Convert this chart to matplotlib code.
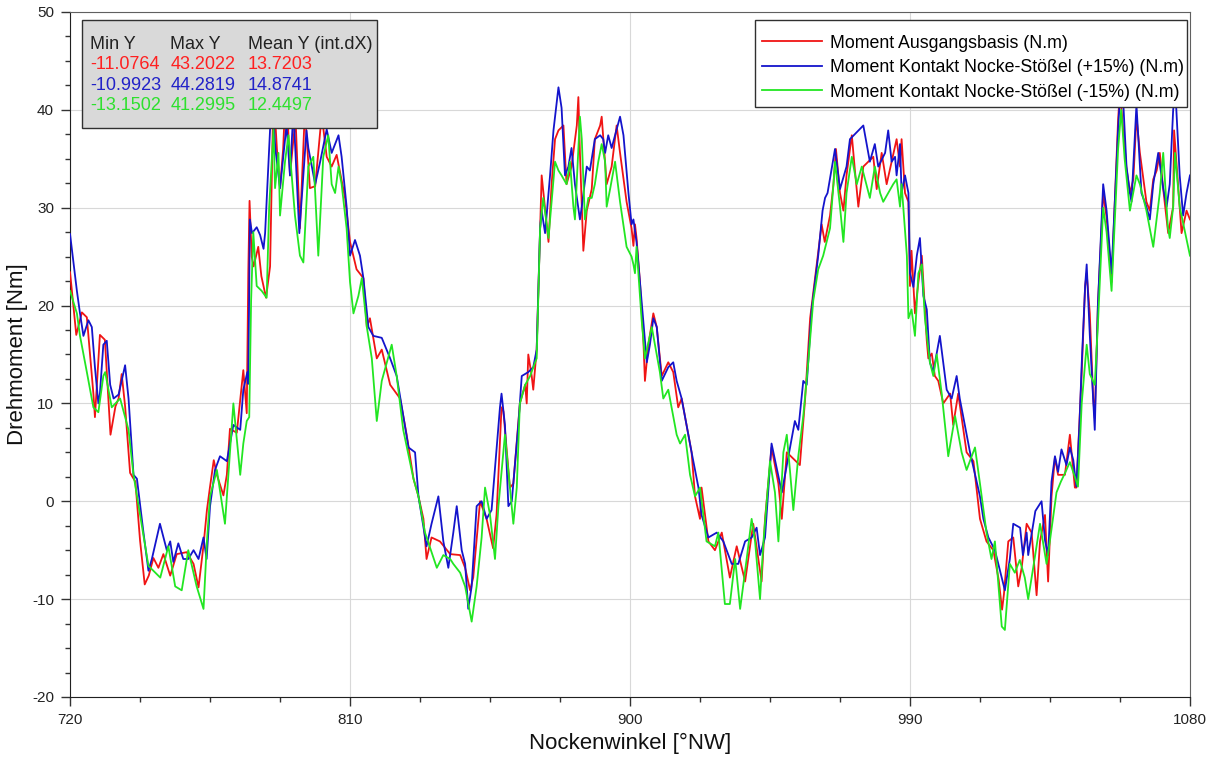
import matplotlib
matplotlib.use("Agg")
import matplotlib.pyplot as plt
from matplotlib.ticker import MultipleLocator
from matplotlib.patches import Rectangle

plt.rcParams['font.family'] = ['Liberation Sans', 'DejaVu Sans']
plt.rcParams['axes.unicode_minus'] = False

# Moment Ausgangsbasis
deg_base = [720, 722, 723.8, 725.4, 727.5, 728, 729.6, 731.2, 733, 734.6, 735.6, 736.6, 737.7, 739.3, 741,
            742.5, 744, 745.3, 746.8, 748.4, 750, 752.2, 754.3, 757.5, 759.7, 761.3, 762.9, 764, 765, 766.2,
            767.2, 769.3, 770.4, 771.4, 773.6, 774.7, 775.7, 776.8, 777.3, 777.7, 778.4, 779, 780.5, 781.5, 783,
            784.3, 785.4, 786.5, 787.5, 788.5, 789.5, 790.7, 791.8, 792.5, 793.9, 795.5, 797.1, 798.8, 800.9,
            802.5, 804.1, 805.7, 808.4, 810, 812.1, 814.3, 815.4, 816.4, 818.6, 820.2, 822.9, 826.1, 828.2,
            830.4, 832, 833.6, 834.6, 836.2, 838.9, 842.2, 845.4, 847, 848.6, 849.6, 851.8, 853.9, 856, 857.1,
            858.7, 859.3, 861.4, 862.5, 864.6, 866.3, 866.8, 867.3, 868.4, 868.9, 870, 871.1, 871.6, 873.8,
            874.8, 875.9, 877, 878.6, 879.6, 881.2, 882.9, 883.4, 883.9, 885, 886.1, 887.7, 888.7, 890.4,
            890.9, 892.5, 894.1, 895.7, 896.8, 898.9, 900.5, 901.1, 901.6, 902.1, 903.2, 904.3, 904.8, 905.9,
            907.5, 908.6, 910.2, 912.3, 913.9, 915.5, 916.6, 919.8, 920.9, 922.5, 923, 925.2, 927.3, 929.5,
            932.1, 934.3, 937, 939.6, 942.3, 943.4, 945.5, 947.7, 948.8, 950.4, 954.6, 956.3, 957.9, 960,
            961.6, 962.6, 964.3, 965.4, 966.2, 967.5, 968.6, 969.6, 971.3, 972.3, 973.4, 975, 978.2, 979.3,
            980.9, 982.5, 985.7, 986.8, 987.3, 988.4, 989.5, 990, 990.5, 991.6, 992.7, 993.8, 995.4, 995.9,
            997, 998, 999.1, 1000.7, 1002.9, 1003.9, 1005.5, 1008.2, 1010.4, 1012.5, 1014.6, 1016.8, 1018.5,
            1019.6, 1020.2, 1021.6, 1023.2, 1024.8, 1025.9, 1027.5, 1029.1, 1030.7, 1031.8, 1033.4, 1034.4,
            1035.5, 1036.6, 1037.6, 1039.8, 1041.4, 1043, 1043.5, 1045.2, 1046.3, 1046.8, 1047.8, 1048.9,
            1049.4, 1050.4, 1052.1, 1053.2, 1054.8, 1056.9, 1057.5, 1058.5, 1059.6, 1060.7, 1061.8, 1062.8,
            1063.9, 1066, 1067.1, 1068.2, 1069.3, 1070.3, 1071.4, 1073, 1074.6, 1074.9, 1076.7, 1077.3,
            1078.9, 1080]
torque_base = [23.4, 17, 19.3, 18.8, 11, 8.6, 17, 16.5, 6.8, 9.7, 10.5, 13, 9.7, 2.9, 2,
               -4, -8.5, -7.6, -5.8, -6.8, -5.4, -7.6, -5.4, -5.2, -6.4, -8.8, -4.5, -0.9, 1.5, 4.2,
               2.7, 0.6, 2.7, 7.4, 7, 10.3, 13.4, 9, 23.4, 30.7, 25, 24, 26, 23, 20.8,
               24, 42, 36, 32, 36, 43.2, 33.3, 37, 39, 27.9, 40, 32, 32.2, 39.5,
               35.2, 34.2, 35.4, 31, 26.5, 23.7, 22.8, 17.8, 18.7, 14.6, 15.5, 11.9, 10.5, 6.8,
               2.3, 0.5, -1.8, -5.9, -3.7, -4.1, -5.4, -5.5, -6.8, -9.1, -7.8, 0, -1.8, -4.8, -1.4,
               9.6, 9.2, 1.4, 1.8, 10, 11.9, 10, 15, 12.8, 11.4, 15.5, 28, 33.3, 26.5,
               32.4, 37, 37.9, 38.4, 32.4, 34.2, 38.4, 41.3, 35.6, 25.6, 29.7, 31.9, 37, 38.4,
               39.3, 32.4, 34.2, 38.4, 35.6, 30.6, 27.9, 26.1, 28.3, 26.9, 22.4, 16.4, 12.3, 16,
               19.2, 17.8, 12.8, 14.2, 13.2, 9.6, 10.5, 5, 0.5, -1.8, 1.4, -4.1, -5, -3.2,
               -7.8, -4.6, -8.2, -2.3, -8.2, -1.8, 5.5, 1.8, -1.8, 5, 3.7, 10.5, 18.7, 24.2,
               28.3, 26.5, 29.2, 32.4, 36, 31.5, 29.7, 33.3, 37.4, 33.8, 30.1, 34.2, 35.2, 31.9,
               35.6, 32.4, 37, 34.2, 37, 31.5, 30.6, 22, 25.6, 19.2, 22.4, 25.1, 16.4, 14.6,
               15.1, 12.8, 12.3, 10, 11, 7.8, 11, 5, 4.1, -1.8, -4.1, -5, -8,
               -11.08, -9.5, -4.1, -3.7, -8.7, -6.8, -2.3, -3.2, -9.6, -4.1, -1.4, -8.2,
               0.5, 4.5, 2.7, 2.7, 6.8, 1.4, 1.4, 13.2, 22, 23.3, 19.2, 10.5,
               8.5, 20, 31.5, 29, 22.4, 39, 42, 38, 34, 31.5, 32.9, 39.3,
               35.6, 30.6, 29.7, 32.9, 33.8, 35.6, 31.9, 27.4, 30.1, 37.9, 30.1, 27.4,
               29.7, 28.8]

# Moment Kontakt Nocke-Stößel (+15%)
deg_plus = [720, 722.2, 723.2, 724.3, 725.9, 727, 728, 729.1, 729.6, 730.7, 731.8, 732.9, 734, 735.6, 737.7,
            738.8, 740.4, 741.5, 743.6, 745.2, 746.3, 748.9, 751.1, 752.2, 753.2, 754.8, 756.4, 758, 759.7,
            761.3, 762.9, 763.9, 765, 766.6, 768.2, 770.4, 772.5, 774.7, 775.7, 777, 777.3, 777.8, 778.5,
            780, 781.1, 782.2, 782.7, 784.3, 785, 786, 787.5, 789.6, 790.7, 791.8, 793.7, 796, 796.6, 798.8,
            800.4, 802.5, 804.1, 806.3, 807.3, 808.9, 810, 811.6, 813.2, 814.3, 815.9, 817.5, 820.2, 822.9,
            825, 828.8, 830.9, 832, 834.6, 836.2, 838.4, 840, 841.6, 843.2, 844.3, 845.9, 847, 848, 849.1,
            850.7, 852.3, 853.9, 855.5, 858.2, 858.7, 859.8, 860.9, 862, 864.1, 865.2, 867.3, 868.9, 870,
            871.1, 871.6, 872.7, 874.3, 875.4, 877, 878, 879.1, 880.2, 881.2, 882.3, 883.9, 884.5, 886.1,
            887.1, 888.7, 890.4, 891.4, 892, 893, 894.1, 896.8, 897.9, 899.5, 900.5, 901.1, 902.1, 903.2,
            905.4, 906.4, 907.5, 908.6, 910.2, 912.3, 913.9, 915, 916.6, 919.8, 922, 923, 925.2, 927.9, 930,
            932.7, 934.8, 937, 939.1, 940.7, 941.8, 943.4, 945.5, 948.8, 953, 954.1, 955.7, 956.8, 958.4,
            960.5, 961.9, 962.7, 963.5, 965.9, 967.5, 969.6, 970.7, 975, 977.1, 978.7, 979.8, 982, 983,
            984.1, 985.2, 985.7, 986.8, 987.3, 988.4, 989.5, 990, 991.1, 992.2, 993.2, 993.8, 994.3, 995.4,
            996.4, 997.5, 999.6, 1001.8, 1003.4, 1005, 1006, 1009.3, 1012.5, 1013.6, 1015.2, 1017.3, 1020.5,
            1022.1, 1023.2, 1025.4, 1026.3, 1027.5, 1028, 1030.3, 1032.3, 1033.4, 1034.4, 1035.5, 1036.6,
            1037.6, 1038.7, 1040.3, 1041.4, 1042.5, 1043.5, 1044.5, 1045.2, 1046.3, 1046.8, 1047.8, 1049.4,
            1050.4, 1052.1, 1053.2, 1054.8, 1056.9, 1058, 1059.6, 1060.7, 1061.2, 1062.8, 1064.4, 1066,
            1067.1, 1068.2, 1069.8, 1071.4, 1072.5, 1073.5, 1074.6, 1075.3, 1076.7, 1077.8, 1078.9, 1080]
torque_plus = [27.3, 21.5, 19.2, 16.9, 18.5, 17.8, 13.7, 10, 11, 16, 16.4, 11.9, 10.5, 10.9, 13.9,
               10.5, 2.7, 2.3, -3.2, -7.1, -5.9, -2.3, -5, -4.1, -6.2, -4.3, -5.9, -5.9, -5,
               -5.9, -3.7, -5.9, -0.5, 3.2, 4.6, 4.1, 7.8, 7.3, 11.4, 13.2, 12, 28.8, 27.4,
               28, 27.2, 25.8, 27.4, 38, 41, 36, 32, 38.5, 33.3, 40, 27.4, 37.9, 36.1, 32.4,
               34.7, 38, 35.6, 37.4, 35.2, 30.1, 25.1, 26.7, 25.1, 22.8, 17.8, 16.9, 16.7, 14.6,
               12.8, 5.5, 5, 0.5, -4.6, -2.3, 0.5, -4.1, -6.8, -3.2, -0.5, -5, -6.4, -10.99, -8.7,
               -0.5, 0, -1.8, -0.9, 9.6, 11, 7.8, -0.5, 0, 7.8, 12.8, 13.2, 13.7, 15.5,
               27.9, 29.7, 27.4, 33.3, 37.9, 42.3, 40.2, 33.3, 34.2, 36.1, 32.4, 28.8, 30.1, 34.2,
               33.8, 37, 37.4, 37, 35.6, 37.4, 36.1, 39.3, 37.4, 31.5, 28.3, 28.8, 26.5, 22.4,
               14.2, 16, 18.7, 17.8, 12.3, 13.7, 14.2, 12.3, 10.5, 5, 1.4, -1.4, -3.7, -3.2, -4.1,
               -6.4, -6.4, -4.1, -3.7, -2.7, -5.5, -3.7, 5.9, 0.9, 8.2, 7.3, 12.3, 11.9, 19.6,
               25.1, 29.7, 31, 31.5, 36, 31.9, 34.2, 37, 38.4, 34.7, 36.5, 34.2, 35.6, 37.9,
               34.7, 35.2, 33.3, 36.5, 31.5, 33.3, 31.5, 23.3, 21.9, 25.1, 26.9, 23.7, 21, 19.6,
               14.2, 13.2, 16.9, 11.4, 10.5, 12.8, 10.5, 5, 0.5, -1.8, -3.7, -5, -9.1,
               -5.9, -2.3, -2.7, -5.5, -3.2, -5.5, -1, 0, -4, -5.5, 2, 4.6,
               3, 5.3, 3.7, 5.5, 4.2, 1.5, 8, 14, 22, 24.2, 17, 7.3,
               20, 32.4, 29.7, 23.3, 38, 44.28, 34.2, 31.5, 30.6, 40.5, 31.5, 30.1,
               28.8, 32.4, 35.6, 32, 30.1, 32.4, 40, 42, 33.3, 29.2, 31.5, 33.3]

# Moment Kontakt Nocke-Stößel (-15%)
deg_minus = [720, 722.2, 723.2, 725.4, 727.5, 729.1, 730.7, 731.3, 733.4, 736.1, 738.8, 740.4, 743, 745.2,
             749, 751.6, 753.8, 755.9, 758, 760.7, 762.9, 764, 765, 767.2, 769.8, 770.9, 772.5, 774.7,
             775.7, 776.8, 777.6, 778.2, 778.9, 780, 781.6, 783.2, 784, 785.4, 785.9, 787, 787.5, 789.1,
             790.2, 792.3, 793.9, 795, 796.6, 798.2, 798.8, 799.8, 801.4, 803, 804.1, 805.2, 806.3, 807.3,
             808.9, 810, 811.1, 812.7, 813.8, 815.4, 817, 818.6, 820.2, 823.4, 825, 827.1, 830.4, 832, 834.1,
             837.9, 840, 842.2, 843.2, 845.4, 847, 849.1, 850.7, 852.3, 853.4, 855, 856.6, 857.7, 859.8,
             862.5, 863.6, 864.6, 866.3, 867.9, 869.5, 870, 871.1, 872.1, 873.8, 875.9, 877, 878, 879.6,
             880.7, 881.8, 882.3, 883.9, 884.5, 885.5, 886.6, 887.7, 888.7, 889.8, 890.9, 892, 892.5, 893.6,
             895.2, 896.8, 898.9, 900.5, 901.1, 901.6, 902.1, 903.7, 904.8, 907, 909.6, 910.7, 912.3, 915,
             916.1, 917.7, 919.3, 920.9, 922.5, 924.6, 927.3, 928.4, 930.5, 932.1, 933.8, 935.4, 937.5,
             939.1, 940.2, 941.8, 942.9, 945, 946.6, 947.7, 949.3, 950.4, 951.4, 952.5, 954.1, 955.7, 957.3,
             958.9, 960.5, 962.1, 964.3, 965.4, 965.9, 967.5, 968.6, 969.6, 971.3, 972.9, 974.5, 977.1,
             978.7, 980.4, 981.4, 984.6, 985.7, 986.8, 987.3, 989, 989.5, 990.5, 991.6, 992.7, 993.8, 994.8,
             996.4, 997.5, 998.6, 1000.2, 1002.3, 1004.5, 1006.6, 1008.2, 1010.9, 1012.5, 1014.6, 1016.2,
             1017.3, 1019.5, 1020.5, 1022.1, 1023.7, 1025.3, 1026.9, 1028, 1030, 1031.8, 1033.9, 1035,
             1037.1, 1038.5, 1040, 1041.4, 1043, 1044, 1045.2, 1046.8, 1047.8, 1049.4, 1050.4, 1052.1,
             1053.2, 1054.8, 1056.9, 1057.9, 1059, 1060.7, 1062.8, 1063.9, 1066, 1068.2, 1070.3, 1071.4,
             1072.9, 1073.5, 1074.6, 1075.2, 1076.7, 1080]
torque_minus = [21.5, 19.2, 16.9, 13.2, 9.6, 9.1, 12.8, 13.2, 9.6, 10.5, 7.3, 2.7, -2.3, -6.6,
                -7.8, -4.6, -8.7, -9.1, -5, -8.7, -11, -4.1, 0.5, 3.2, -2.3, 2.7, 10, 2.7,
                5.9, 8.2, 8.6, 20.5, 27.5, 22, 21.5, 20.8, 30, 38, 32, 35.6, 29.2, 34.7,
                37.4, 29.2, 25.1, 24.4, 34.2, 35.2, 31.5, 25.1, 35.2, 37.4, 32.4, 31.5, 34.2, 32.4,
                27.9, 22.4, 19.2, 21, 22.8, 17.8, 14.6, 8.2, 12.3, 16, 12.8, 7.3, 2.3, 0.5, -3.2,
                -6.8, -5.5, -5.9, -6.4, -7.3, -8.7, -12.3, -8.7, -3.7, 1.4, -1.4, -5.9, -0.5, 6.8,
                -2.3, 1.4, 10, 11.9, 12.8, 14.2, 14.6, 27.9, 31, 26.9, 34.7, 33.8, 33.3, 32.4,
                34.7, 30.1, 28.8, 39.3, 37, 28.8, 31, 31, 32.4, 34.7, 36.5, 34.7, 30.1, 31.9,
                34.7, 30.6, 26, 25, 24.2, 23.3, 26, 18.7, 14.6, 17.8, 13.2, 10.5, 11.4, 6.8,
                5.9, 6.8, 2.7, 0.5, 1.4, -4.1, -4.6, -3.2, -10.5, -10.5, -5.9, -11, -5.9,
                -1.8, -4.1, -10, -4.1, 4.1, 0.9, -4.1, 5, 6.8, 3.2, -0.9, 4.6, 8.7, 14.2,
                20.5, 23.7, 25.1, 27.9, 32.4, 34.7, 30.1, 26.5, 31.5, 35.2, 32.4, 34.2, 31,
                34.2, 31.5, 30.6, 32.4, 32.9, 30.1, 32.4, 25.1, 18.7, 19.6, 16.9, 23.3, 24.2, 18.7,
                14.2, 12.8, 15, 11, 4.6, 8.7, 5, 3.2, 5.5, 1.8, -3.2, -5.9,
                -4.1, -12.8, -13.15, -6.4, -7.3, -6, -7.8, -10, -6, -2.3, -6.4, -4,
                0.9, 2, 3, 4, 2.5, 1.5, 10, 16, 13, 11.9, 18, 30,
                27.5, 21.5, 36, 40, 35, 29.7, 33.3, 32.4, 29.7, 26, 31.5, 35.6,
                28, 26.9, 30.1, 35.6, 30.1, 25.1]

series_labels = ["Moment Ausgangsbasis (N.m)",
                 "Moment Kontakt Nocke-Stößel (+15%) (N.m)",
                 "Moment Kontakt Nocke-Stößel (-15%) (N.m)"]
stat_headers = ["Min Y", "Max Y", "Mean Y (int.dX)"]
stat_min = ["-11.0764", "-10.9923", "-13.1502"]
stat_max = ["43.2022", "44.2819", "41.2995"]
stat_mean = ["13.7203", "14.8741", "12.4497"]

colors = ["#f01414", "#1414cc", "#22e622"]
text_colors = ["#ff2020", "#2222c8", "#2ee02e"]

fig = plt.figure(figsize=(12.14, 7.58), dpi=100)
ax = fig.add_axes([0.0577, 0.0805, 0.9225, 0.9037])

for xs, ys, c, lab in zip([deg_base, deg_plus, deg_minus],
                          [torque_base, torque_plus, torque_minus],
                          colors, series_labels):
    ax.plot(xs, ys, color=c, lw=1.3, label=lab, zorder=3)

ax.set_xlim(720, 1080)
ax.set_ylim(-20, 50)
ax.xaxis.set_major_locator(MultipleLocator(90))
ax.xaxis.set_minor_locator(MultipleLocator(22.5))
ax.yaxis.set_major_locator(MultipleLocator(10))
ax.yaxis.set_minor_locator(MultipleLocator(2.5))
ax.grid(True, which='major', color='#d8d8d8', lw=0.8, zorder=0)
ax.tick_params(which='both', direction='out', colors='#333333', labelsize=11,
               labelcolor='#222222', pad=5)
ax.tick_params(which='major', length=6.5, width=1.0)
ax.tick_params(which='minor', length=3.5, width=1.0)
for s in ['top', 'right']:
    ax.spines[s].set_color('#606060')
for s in ['left', 'bottom']:
    ax.spines[s].set_color('#202020')

ax.set_xlabel("Nockenwinkel [°NW]", fontsize=16, labelpad=4, color='#111111')
ax.set_ylabel("Drehmoment [Nm]", fontsize=16, labelpad=3, color='#111111')

# legend frame drawn separately so its padding can differ per side
legend_frame = Rectangle((0.6116, 0.8613), 0.3857, 0.127, transform=ax.transAxes,
                         facecolor='white', edgecolor='#303030', lw=1.0, zorder=9)
ax.add_patch(legend_frame)
leg = ax.legend(loc='upper left', bbox_to_anchor=(0.6179, 0.9670), fontsize=12.8,
                frameon=False, handlelength=3.4, handletextpad=0.45, borderpad=0.0,
                labelspacing=0.42, borderaxespad=0.0)
leg.set_zorder(10)

# statistics box
box = Rectangle((0.0107, 0.83), 0.263, 0.158, transform=ax.transAxes,
                facecolor='#d9d9d9', edgecolor='#303030', lw=1.0, zorder=8)
ax.add_patch(box)
col_x = [0.018, 0.0895, 0.159]
row_y = [0.953, 0.923, 0.893, 0.863]
for cx, h in zip(col_x, stat_headers):
    ax.text(cx, row_y[0], h, transform=ax.transAxes, fontsize=13, color='#222222',
            va='center', ha='left', zorder=9)
for i in range(3):
    for cx, vals in zip(col_x, [stat_min, stat_max, stat_mean]):
        ax.text(cx, row_y[i + 1], vals[i], transform=ax.transAxes, fontsize=13,
                color=text_colors[i], va='center', ha='left', zorder=9)

fig.savefig("out.png", dpi=100)
